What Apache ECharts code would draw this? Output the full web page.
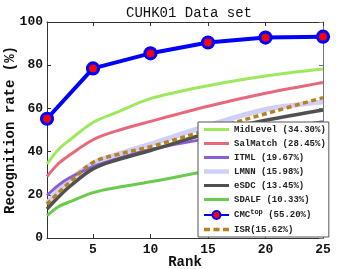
<!DOCTYPE html>
<html><head><meta charset="utf-8">
<script src="https://cdn.jsdelivr.net/npm/echarts@6/dist/echarts.min.js"></script>
<style>html,body{margin:0;padding:0;background:#fff}#c{width:357px;height:269px}</style>
</head><body><div id="c"></div>
<script>
const ranks = [1, 2, 3, 5, 7, 10, 15, 20, 25];
const midLevel = [34.3, 41, 45.5, 53.5, 58, 64.5, 70.5, 75, 78.2];
const salMatch = [28.45, 34.5, 38.5, 45.5, 49.5, 54, 61, 67, 72];
const itml = [19.67, 24.5, 28, 33, 36.5, 41, 46, 50, 53.8];
const lmnn = [15.98, 22, 27, 34.5, 38.5, 43.5, 52, 59.5, 63];
const esdc = [13.45, 19, 24, 32, 36, 40.5, 48.5, 54.5, 59.3];
const sdalf = [10.33, 14.5, 16.8, 21, 23.3, 26, 31, 35, 38.5];
const isr = [15.62, 21, 26, 35, 38.5, 42.3, 50, 57.5, 65];
const cmcRanks = [1, 5, 10, 15, 20, 25];
const cmcTop = [55.2, 78.5, 85.5, 90.5, 92.8, 93.2];
const xTicks = [5, 10, 15, 20, 25];
const names = ['MidLevel (34.30%)', 'SalMatch (28.45%)', 'ITML (19.67%)', 'LMNN (15.98%)',
  'eSDC (13.45%)', 'SDALF (10.33%)', 'CMCtop (55.20%)', 'ISR(15.62%)'];

const pair = (xs, ys) => xs.map((x, i) => [x, ys[i]]);
const mono = 'Liberation Mono, DejaVu Sans Mono, monospace';
const barIcon = 'path://M0,0h25v3h-25z';
const thickIcon = 'path://M0,0h25v4.5h-25z';
const dashIcon = 'path://M0,0h6v3.5h-6zM9.5,0h6v3.5h-6zM19,0h6v3.5h-6z';
function line(name, data, color, width, extra) {
  return Object.assign({
    name, type: 'line', data: pair(ranks, data), smooth: 0.35, symbol: 'none',
    lineStyle: { color, width }, itemStyle: { color }, z: 2
  }, extra || {});
}
const axisCommon = {
  type: 'value', min: 1, max: 25,
  axisLine: { show: true, onZero: false, lineStyle: { color: '#333', width: 1 } },
  splitLine: { show: false },
  axisTick: { inside: true, length: 4, customValues: xTicks, lineStyle: { color: '#333' } }
};
const legendData = names.map((n, i) => {
  if (i === 6) return { name: n };
  if (i === 7) return { name: n, icon: dashIcon };
  if (i === 3) return { name: n, icon: thickIcon };
  return { name: n, icon: barIcon };
});
const chart = echarts.init(document.getElementById('c'), null, { renderer: 'canvas' });
chart.setOption({
  animation: false,
  backgroundColor: '#fff',
  title: {
    text: 'CUHK01 Data set', left: 184, top: 1, textAlign: 'center',
    textStyle: { fontFamily: mono, fontSize: 14, fontWeight: 'normal', color: '#111' }
  },
  grid: { left: 47, right: 34, top: 22, bottom: 31, outerBoundsMode: 'none', containLabel: false },
  xAxis: [
    Object.assign({}, axisCommon, {
      position: 'bottom',
      name: 'Rank', nameLocation: 'middle', nameGap: 17, nameMoveOverlap: false,
      nameTextStyle: { fontFamily: mono, fontSize: 14, fontWeight: 'bold', color: '#111' },
      axisLabel: { customValues: xTicks, margin: 5, fontFamily: mono, fontSize: 13, fontWeight: 'bold', color: '#111' }
    }),
    Object.assign({}, axisCommon, { position: 'top', axisLabel: { show: false } })
  ],
  yAxis: [
    {
      type: 'value', min: 0, max: 100, interval: 20, position: 'left',
      name: 'Recognition rate (%)', nameLocation: 'middle', nameGap: 30, nameMoveOverlap: false,
      nameTextStyle: { fontFamily: mono, fontSize: 14, fontWeight: 'bold', color: '#111' },
      axisLine: { show: true, lineStyle: { color: '#333' } },
      axisTick: { inside: true, length: 4, lineStyle: { color: '#333' } },
      splitLine: { show: false },
      axisLabel: { margin: 4, fontFamily: mono, fontSize: 13, fontWeight: 'bold', color: '#111' }
    },
    {
      type: 'value', min: 0, max: 100, interval: 20, position: 'right',
      axisLine: { show: true, lineStyle: { color: '#777' } },
      axisTick: { inside: true, length: 4, lineStyle: { color: '#777' } },
      splitLine: { show: false }, axisLabel: { show: false }
    }
  ],
  legend: {
    orient: 'vertical', left: 198, top: 122,
    itemWidth: 25, itemHeight: 10, itemGap: 5,
    padding: [3, 3, 3, 5],
    backgroundColor: '#fff', borderColor: '#555', borderWidth: 1,
    data: legendData,
    formatter: function (n) {
      if (n.indexOf('CMCtop') === 0) return '{n|CMC}{s|top} {n|(55.20%)}';
      return n;
    },
    textStyle: {
      fontFamily: mono, fontSize: 9, fontWeight: 'bold', color: '#222',
      rich: {
        n: { fontFamily: mono, fontSize: 9, fontWeight: 'bold', color: '#222' },
        s: { fontFamily: mono, fontSize: 7, fontWeight: 'bold', color: '#222', verticalAlign: 'top', padding: [0, 0, 5, 0] }
      }
    },
    z: 10
  },
  series: [
    line(names[0], midLevel, '#9ee85c', 3),
    line(names[1], salMatch, '#e8687a', 3),
    line(names[2], itml, '#8a5ed6', 3),
    line(names[3], lmnn, '#cfd0f6', 5, { z: 1 }),
    line(names[4], esdc, '#4f504f', 3.5),
    line(names[5], sdalf, '#6acb4c', 3),
    {
      name: names[6], type: 'line', data: pair(cmcRanks, cmcTop), z: 4,
      symbol: 'circle', symbolSize: 11,
      lineStyle: { color: '#0000ff', width: 4 },
      itemStyle: { color: '#ff0000', borderColor: '#0000ff', borderWidth: 3.2 }
    },
    line(names[7], isr, '#b9811a', 3.5, { z: 3, lineStyle: { color: '#b9811a', width: 3.5, type: [5, 3.5] } })
  ]
});
</script></body></html>
